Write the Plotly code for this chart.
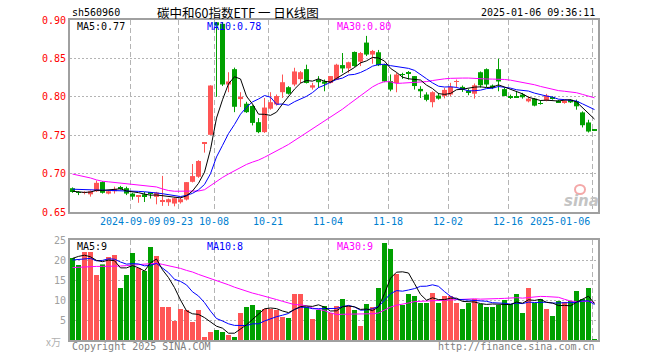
import plotly.graph_objects as go
import pandas as pd

# ---------------- data ----------------
holidays = ["2024-09-16", "2024-09-17", "2024-10-01", "2024-10-02", "2024-10-03",
            "2024-10-04", "2024-10-07", "2025-01-01"]
dates = [d.strftime("%Y-%m-%d") for d in pd.bdate_range("2024-08-26", "2025-01-06")
         if d.strftime("%Y-%m-%d") not in holidays]

opens = [
    0.681, 0.676, 0.675, 0.673, 0.677, 0.689, 0.674, 0.677, 0.682, 0.681,
    0.674, 0.670, 0.673, 0.6745, 0.6697, 0.6635, 0.6627, 0.661, 0.6627, 0.6662,
    0.6893, 0.6959, 0.739, 0.7505, 0.897, 0.895, 0.816, 0.836, 0.797, 0.791,
    0.788, 0.767, 0.754, 0.7845, 0.790, 0.806, 0.8125, 0.816, 0.823, 0.836,
    0.812, 0.8225, 0.820, 0.818, 0.8225, 0.8413, 0.837, 0.8584, 0.8457, 0.8706,
    0.855, 0.858, 0.842, 0.8204, 0.818, 0.8295, 0.8315, 0.827, 0.8103, 0.803,
    0.793, 0.8016, 0.801, 0.803, 0.8195, 0.8129, 0.808, 0.804, 0.832, 0.836,
    0.8147, 0.836, 0.810, 0.800, 0.800, 0.8029, 0.7941, 0.7976, 0.7915, 0.795,
    0.7988, 0.795, 0.7919, 0.7963, 0.7941, 0.7797, 0.7666, 0.757]
highs = [
    0.682, 0.677, 0.677, 0.678, 0.691, 0.690, 0.678, 0.683, 0.684, 0.683,
    0.675, 0.6712, 0.676, 0.676, 0.6762, 0.697, 0.6675, 0.669, 0.6697, 0.689,
    0.7125, 0.7175, 0.741, 0.815, 0.897, 0.897, 0.832, 0.838, 0.806, 0.7935,
    0.789, 0.7723, 0.7985, 0.806, 0.803, 0.829, 0.8138, 0.8378, 0.8335, 0.8418,
    0.8182, 0.8269, 0.8225, 0.827, 0.843, 0.857, 0.8457, 0.859, 0.8584, 0.8793,
    0.861, 0.861, 0.843, 0.8291, 0.8313, 0.8313, 0.8335, 0.827, 0.8138, 0.8059,
    0.8072, 0.8051, 0.8116, 0.8182, 0.8225, 0.8147, 0.810, 0.8173, 0.833, 0.837,
    0.816, 0.8496, 0.8116, 0.8029, 0.8072, 0.8051, 0.8007, 0.7985, 0.7955, 0.8038,
    0.8007, 0.796, 0.796, 0.797, 0.7963, 0.781, 0.7701, 0.757]
lows = [
    0.675, 0.672, 0.673, 0.670, 0.676, 0.674, 0.673, 0.674, 0.679, 0.672,
    0.666, 0.662, 0.663, 0.6675, 0.660, 0.658, 0.658, 0.6574, 0.661, 0.665,
    0.6885, 0.6945, 0.7273, 0.7505, 0.800, 0.814, 0.806, 0.780, 0.7867, 0.779,
    0.7627, 0.7526, 0.753, 0.7832, 0.7885, 0.7985, 0.8029, 0.8138, 0.8173, 0.8173,
    0.8094, 0.8116, 0.8072, 0.8173, 0.8216, 0.8313, 0.8313, 0.839, 0.840, 0.853,
    0.843, 0.840, 0.819, 0.8072, 0.8059, 0.8234, 0.8225, 0.8094, 0.7985, 0.7941,
    0.7863, 0.7963, 0.798, 0.8007, 0.8116, 0.8064, 0.802, 0.7976, 0.812, 0.8125,
    0.810, 0.8072, 0.8007, 0.7972, 0.7985, 0.7976, 0.7928, 0.7876, 0.7898, 0.7941,
    0.7963, 0.792, 0.791, 0.792, 0.7832, 0.7601, 0.7535, 0.7565]
closes = [
    0.676, 0.675, 0.6755, 0.677, 0.688, 0.675, 0.677, 0.680, 0.681, 0.674,
    0.670, 0.671, 0.6705, 0.674, 0.6753, 0.6653, 0.6666, 0.668, 0.6666, 0.6889,
    0.6968, 0.7164, 0.7405, 0.8147, 0.893, 0.816, 0.820, 0.787, 0.800, 0.780,
    0.766, 0.754, 0.786, 0.793, 0.801, 0.819, 0.804, 0.833, 0.832, 0.818,
    0.815, 0.819, 0.817, 0.827, 0.8418, 0.8369, 0.845, 0.840, 0.857, 0.855,
    0.8597, 0.841, 0.820, 0.8094, 0.829, 0.8285, 0.8305, 0.814, 0.8072, 0.796,
    0.806, 0.7976, 0.809, 0.813, 0.8205, 0.8094, 0.805, 0.815, 0.815, 0.816,
    0.8116, 0.820, 0.801, 0.7995, 0.7995, 0.7994, 0.7976, 0.7885, 0.791, 0.8016,
    0.7983, 0.7928, 0.795, 0.7928, 0.7876, 0.763, 0.7548, 0.7565]
volumes = [
    20.5, 18.75, 22, 22, 16.25, 18.9, 20.75, 21.25, 13, 16.25,
    21.75, 18, 17.25, 23.25, 21, 8.25, 8.25, 4.75, 7.75, 7.5,
    4.5, 7.5, 0.75, 2, 2.5, 2, 1.25, 0.75, 6.75, 8.25,
    8.75, 7.5, 7.75, 7.75, 7.5, 5.75, 5.5, 11.5, 11.5, 8.25,
    5.25, 7.5, 8.5, 6.75, 8.5, 10.25, 8.5, 7.5, 3.5, 9,
    8.25, 13, 24.25, 22.75, 16.5, 8.75, 11.5, 11, 9.25, 9.25,
    11.75, 9.25, 11, 11, 9.25, 7.75, 9.25, 10.25, 9, 8.25,
    8.25, 8.75, 10, 9, 11.5, 6.75, 13, 9.25, 10.25, 7.75,
    6, 9.75, 9.5, 9.75, 12.25, 10.25, 13, 0.25]

# moving-average values before enough history exists
ma5_head = [0.677, 0.676, 0.6755, 0.676]
ma10_head = [0.6797, 0.6795, 0.679, 0.6788, 0.6785, 0.678, 0.678, 0.6778, 0.6775]
ma30_head = [0.6994, 0.698, 0.6962, 0.6943, 0.6918, 0.6900, 0.6893, 0.6885, 0.6877, 0.6868,
             0.6858, 0.685, 0.6843, 0.6835, 0.6826, 0.680, 0.678, 0.677, 0.677, 0.677,
             0.677, 0.6773, 0.679, 0.6844, 0.690, 0.695, 0.6995, 0.704, 0.708]
vma5_head = [20.4, 20.9, 21.2, 20.8]
vma10_head = [20.0, 20.1, 20.3, 20.4, 19.8, 19.9, 20.3, 20.2, 19.5]
vma30_head = [18.1, 18.2, 18.3, 18.3, 18.4, 18.4, 18.4, 18.5, 18.5, 18.6,
              18.7, 18.8, 18.9, 19.0, 19.2, 18.9, 18.6, 18.3, 17.9, 17.4,
              17.0, 16.4, 15.9, 15.4, 14.9, 14.3, 13.8, 13.2, 12.7]

tick_dates = ["2024-09-09", "2024-09-23", "2024-10-08", "2024-10-21", "2024-11-04",
              "2024-11-18", "2024-12-02", "2024-12-16", "2025-01-06"]
tick_labels = ["2024-09-09", "09-23", "10-08", "10-21", "11-04", "11-18", "12-02",
               "12-16", "2025-01-06"]
price_ticks = [0.65, 0.70, 0.75, 0.80, 0.85, 0.90]
vol_ticks = [5, 10, 15, 20, 25]

title_text = "碳中和60指数ETF 一 日K线图"
code_text = "sh560960"
time_text = "2025-01-06 09:36:11"
price_ma_labels = ["MA5:0.77", "MA10:0.78", "MA30:0.80"]
vol_ma_labels = ["MA5:9", "MA10:8", "MA30:9"]

# ---------------- helpers ----------------
def moving_avg(vals, w, head):
    out = []
    for i in range(len(vals)):
        if i < w - 1:
            out.append(head[i])
        else:
            out.append(sum(vals[i - w + 1:i + 1]) / w)
    return out

n = len(closes)
xs = list(range(n))
RED = "#ff5555"
GREEN = "#00a000"
up = [c > o for o, c in zip(opens, closes)]
colors = [RED if u else GREEN for u in up]
MA_COLORS = ["#000000", "#0000ff", "#ff00ff"]
MONO = "DejaVu Sans Mono"

# full-window figure (page body margin removed below); plot area at
# screen x 70..598, y 20..340
FW, FH = 660, 360
L, R, T, B = 70, FW - 598, 20, FH - 340
PW, PH = FW - L - R, FH - T - B
def px(xs_screen):
    return (xs_screen - L) / PW
def py(ys_screen):
    return (FH - B - ys_screen) / PH

fig = go.Figure()

# wicks
for flag, col in ((True, RED), (False, GREEN)):
    wx, wy = [], []
    for i in range(n):
        if up[i] == flag:
            wx += [i, i, None]
            wy += [lows[i], highs[i], None]
    fig.add_trace(go.Scatter(x=wx, y=wy, mode="lines", line=dict(color=col, width=1),
                             xaxis="x", yaxis="y", hoverinfo="skip"))

# bodies
base = [min(o, c) for o, c in zip(opens, closes)]
height = [max(abs(c - o), 0.0009) for o, c in zip(opens, closes)]
fig.add_trace(go.Bar(x=xs, y=height, base=base, width=0.83,
                     marker=dict(color=colors, line=dict(width=0)),
                     xaxis="x", yaxis="y"))

# price MAs
for w, head, col in ((30, ma30_head, MA_COLORS[2]), (10, ma10_head, MA_COLORS[1]),
                     (5, ma5_head, MA_COLORS[0])):
    fig.add_trace(go.Scatter(x=xs, y=moving_avg(closes, w, head), mode="lines",
                             line=dict(color=col, width=1), xaxis="x", yaxis="y"))

# volume
fig.add_trace(go.Bar(x=xs, y=volumes, width=0.83,
                     marker=dict(color=colors, line=dict(width=0)),
                     xaxis="x2", yaxis="y2"))
for w, head, col in ((30, vma30_head, MA_COLORS[2]), (10, vma10_head, MA_COLORS[1]),
                     (5, vma5_head, MA_COLORS[0])):
    fig.add_trace(go.Scatter(x=xs, y=moving_avg(volumes, w, head), mode="lines",
                             line=dict(color=col, width=1), xaxis="x2", yaxis="y2"))

SHIFT = -0.37
grid_x = [dates.index(d) + SHIFT for d in tick_dates]
xcommon = dict(range=[-0.4167, n - 1 + 0.583], tickvals=grid_x, showticklabels=False,
               showgrid=True, griddash="5px,3px", gridcolor="#b4b4b4", gridwidth=1,
               showline=True, mirror=True, linecolor="#a0a0a0", linewidth=2,
               ticks="", zeroline=False, fixedrange=True)
ycommon = dict(showgrid=True, griddash="2px,2px", gridcolor="#b4b4b4", gridwidth=1,
               showline=True, mirror=True, linecolor="#a0a0a0", linewidth=2,
               ticks="", zeroline=False, fixedrange=True)

fig.update_layout(
    width=FW, height=FH, margin=dict(l=L, r=R, t=T, b=B, autoexpand=False),
    plot_bgcolor="white", paper_bgcolor="white", showlegend=False, hovermode=False,
    xaxis=dict(domain=[0, 1], anchor="y", **xcommon),
    xaxis2=dict(domain=[0, 1], anchor="y2", **xcommon),
    yaxis=dict(domain=[0.4, 1.0], range=[0.65, 0.90], tickvals=price_ticks,
               ticktext=[f"{v:.2f}" for v in price_ticks],
               tickfont=dict(family=MONO, size=10, color="#ff0000"), **ycommon),
    yaxis2=dict(domain=[0, 0.3125], range=[0, 25], tickvals=vol_ticks,
                ticktext=[str(v) for v in vol_ticks],
                tickfont=dict(family=MONO, size=10, color="#a0a0a0"), **ycommon),
)

ann = []
# x tick labels
for gx, lab in zip(grid_x, tick_labels):
    last = lab == tick_labels[-1]
    ann.append(dict(x=gx, xref="x", y=py(221.5), yref="paper", text=lab, showarrow=False,
                    xanchor="right" if last else "center", yanchor="middle",
                    font=dict(family=MONO, size=10, color="#0080d0")))
# header
ann.append(dict(x=px(70), y=py(13), xref="paper", yref="paper", text=code_text,
                showarrow=False, xanchor="left", yanchor="middle",
                font=dict(family=MONO, size=10, color="#000")))
ann.append(dict(x=px(237.5), y=py(12.5), xref="paper", yref="paper", text=title_text,
                showarrow=False, xanchor="center", yanchor="middle",
                font=dict(family="Noto Sans CJK SC", size=12.5, color="#000")))
ann.append(dict(x=px(597), y=py(13), xref="paper", yref="paper", text=time_text,
                showarrow=False, xanchor="right", yanchor="middle",
                font=dict(family=MONO, size=10, color="#000")))
# MA labels
for xp, lab, col in zip((75, 205, 335), price_ma_labels, MA_COLORS):
    ann.append(dict(x=px(xp), y=py(27), xref="paper", yref="paper", text=lab,
                    showarrow=False, xanchor="left", yanchor="middle",
                    font=dict(family=MONO, size=10, color=col)))
for xp, lab, col in zip((75, 205, 335), vol_ma_labels, MA_COLORS):
    ann.append(dict(x=px(xp), y=py(246.5), xref="paper", yref="paper", text=lab,
                    showarrow=False, xanchor="left", yanchor="middle",
                    font=dict(family=MONO, size=10, color=col)))
# footer
ann.append(dict(x=px(63), y=py(341), xref="paper", yref="paper", text="x万",
                showarrow=False, xanchor="right", yanchor="middle",
                font=dict(family="Noto Sans CJK SC", size=10, color="#b0b0b0")))
ann.append(dict(x=px(70), y=py(346), xref="paper", yref="paper",
                text="Copyright 2025 SINA.COM", showarrow=False, xanchor="left",
                yanchor="middle", font=dict(family=MONO, size=10, color="#808080")))
ann.append(dict(x=px(597), y=py(346), xref="paper", yref="paper",
                text="http://finance.sina.com.cn", showarrow=False, xanchor="right",
                yanchor="middle", font=dict(family=MONO, size=10, color="#808080")))
# sina watermark
ann.append(dict(x=px(581), y=py(201), xref="paper", yref="paper", text="sina",
                showarrow=False, xanchor="center", yanchor="middle",
                font=dict(family="DejaVu Sans", size=15, color="#c4c4c4",
                          style="italic", weight="bold")))
fig.update_layout(annotations=ann)
fig.add_shape(type="circle", xref="paper", yref="paper",
              x0=px(575), x1=px(585), y0=py(194), y1=py(185),
              line=dict(color="#f4a8a8", width=2))

fig.write_html("out.html", config={"displayModeBar": False},
               post_script="document.body.style.margin='0px';"
                           "document.body.style.overflow='hidden';")
